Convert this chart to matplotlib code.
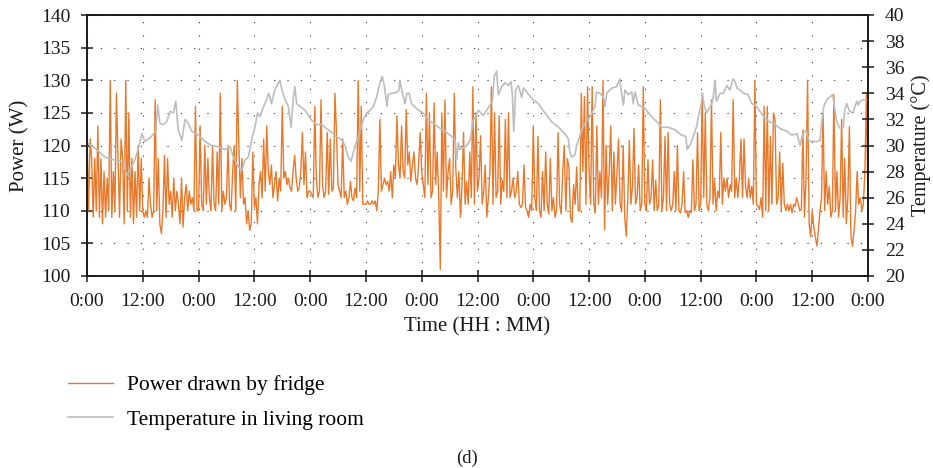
import numpy as np
import matplotlib
matplotlib.use("Agg")
import matplotlib.pyplot as plt

plt.rcParams['font.family'] = ['Liberation Serif', 'DejaVu Serif']

# ---------------- data ----------------
sample_minutes = 20  # fridge power sampled every 20 min

power_w = [
    # 0:00 - 12:00 (day 1)
    122, 110, 121, 118, 109, 118, 110, 123, 109, 118, 108, 116, 109, 115, 110, 130, 109, 116,
    110, 128, 118, 109, 121, 118, 108, 130, 110, 125, 109, 118, 108, 116, 109, 120, 110, 118,
    # 12:00 - 0:00
    110, 109, 110, 109, 115, 111, 109, 110, 127, 110, 118, 108, 106.5, 110, 118.5, 109, 118, 111,
    113, 109, 115, 110, 113, 111, 108, 115, 107.5, 112, 114, 110, 113, 111, 112, 110, 126, 110,
    # day 2
    110, 123, 111, 110, 120, 111, 118, 112, 110, 120, 111, 110, 119, 111, 128, 110, 113, 111,
    112, 120, 111, 110, 116, 120, 110, 130, 120, 112, 118, 111, 112, 108, 110, 107, 108, 119,
    110.5, 112, 108, 114, 116, 112, 121, 113, 123, 116, 114, 117, 112, 114, 116, 111.5, 115, 113,
    126, 115, 116, 114, 115, 113.5, 113, 116, 118.5, 115, 113, 113.5, 116, 122, 114, 119, 112, 113,
    # day 3
    113, 112.5, 112, 126, 115, 112, 113, 127, 114, 112, 113, 122, 112.5, 121, 113, 113.5, 128, 122,
    114, 113, 112, 121, 112, 113, 111, 112, 114.5, 112, 111.5, 113.5, 112, 130, 113, 126, 111, 111,
    111, 111.5, 111, 111, 111.5, 111, 111.5, 110, 113, 124, 113, 114, 115, 114, 114.5, 113, 116, 112,
    117, 115, 124.5, 117, 115, 123, 116, 115, 125.5, 117, 119, 114.5, 117, 119, 115, 114, 117, 122,
    # day 4
    116, 114, 112, 128, 114, 125, 112, 113, 126.5, 114, 119, 112, 101, 125, 113, 127, 112, 116,
    118, 111, 113, 128, 116.5, 112, 116, 109, 114, 122, 111, 114.5, 111, 119, 112, 129, 111, 125,
    113, 115, 121.5, 111, 113, 117, 109, 112, 116, 129, 111, 125, 112, 113, 124.5, 111, 114.7, 113,
    124, 112, 125, 112, 113, 115, 112, 113, 116, 111, 110.5, 111, 117, 110.5, 110, 109, 111, 110,
    # day 5
    123, 112, 110, 121.4, 110, 109, 116, 110, 119, 111, 109.5, 118, 110, 112, 109, 110, 122, 111,
    109.5, 116, 120, 110, 118, 116.7, 109, 108.2, 114, 111, 116.7, 110, 110, 128, 116, 127.5, 111, 129,
    116, 111, 129, 111, 109.7, 123, 111, 116, 112, 130, 107.1, 120, 111, 116, 123, 110, 119, 111,
    116, 121, 111, 110, 120, 109, 106.1, 112, 120.8, 111, 113.7, 122.6, 111, 112, 117, 110, 111, 129,
    # day 6
    111, 110, 117.8, 111, 112, 117.8, 110, 114.7, 110, 111, 127, 110, 112, 121.4, 110, 122, 111, 110,
    111, 116, 110, 120, 110, 109.7, 111, 116, 109.7, 110, 109, 110, 109.7, 117.8, 110, 111, 122, 110,
    111, 128, 112, 125, 111, 110, 112, 127, 111, 114.7, 110, 113, 112, 122, 111, 115, 113, 115,
    112, 114, 113, 127, 112, 115, 112, 115, 121, 112, 121, 113.7, 112, 115, 112, 113.7, 111, 130,
    # day 7
    111, 110.7, 110.2, 112, 109, 126, 110, 126, 110, 121.4, 111, 125, 124, 111, 112, 119, 110, 117.3,
    111, 110, 111, 110, 111, 109.7, 111, 110.7, 112, 111, 110, 110.2, 122.4, 109, 115, 130, 108, 106,
    110, 107.6, 106, 104.6, 107, 110, 112, 125, 110, 116, 111, 113.7, 109, 110, 127.8, 110, 116, 109,
    112, 124, 109, 118, 108, 112, 122.9, 106, 104.6, 107, 110, 116, 111, 112, 110, 111, 116, 128,
    110,
]

temp_hours = [
    0, 1.7, 3.9, 6.7, 7.8, 8.5, 9.2, 10.3, 11, 11.8, 12.5, 13.9, 14.8, 15.2, 15.7, 16.4, 17.1,
    17.9, 18.6, 19.1, 19.6, 20.4, 21.1, 21.8, 22.5, 23.9, 25.4, 26.8, 28.2, 29.7, 30.8, 31.5,
    32.5, 33.3, 34.0, 34.7, 35.4, 36.1, 36.7, 37.2, 37.9, 38.6, 39.1, 39.7, 40.4, 41.2, 41.5,
    41.9, 42.6, 43.3, 43.9, 44.4, 44.7, 45.1, 45.8, 46.9, 48.3, 49.4, 50.5, 51.9, 53.3, 54.8,
    55.5, 56.2, 56.8, 57.3, 58, 58.7, 59.4, 60.2, 60.9, 61.6, 62.3, 63, 63.5, 64, 64.5, 64.8,
    65.5, 66.6, 67.1, 67.3, 67.7, 68.4, 68.8, 69.3, 69.8, 71.3, 72.3, 73.1, 74.1, 75.6, 77,
    78.4, 79.2, 79.5, 79.9, 80.2, 80.9, 81.7, 82.4, 83.1, 83.6, 84.2, 84.7, 85.2, 86, 86.7,
    87.2, 87.6, 88.1, 88.5, 89.2, 89.9, 90.6, 91.2, 91.5, 91.8, 92.2, 92.8, 93.5, 93.9, 94.6,
    95.7, 97.1, 98.5, 100, 101.4, 102.8, 103.5, 103.9, 104.3, 105, 105.3, 106, 106.4, 107.1,
    108.2, 109.3, 109.6, 110.3, 111.1, 111.4, 111.8, 112.9, 113.9, 114.6, 115, 115.4, 115.7,
    116.4, 117.2, 117.5, 117.9, 118.6, 120, 121.5, 122.9, 123.6, 125, 126.5, 127.9, 128.8,
    129.1, 129.7, 130.4, 131.1, 131.5, 132.1, 132.4, 132.8, 133.3, 134.4, 134.7, 135.1, 135.4,
    136.2, 136.9, 137.6, 138.3, 139, 139.4, 139.8, 140.5, 141.2, 142.2, 143, 143.7, 144.8,
    145.8, 146.9, 148, 149.1, 150.5, 151.6, 152.7, 153.4, 153.9, 154.7, 155.2, 155.9, 157,
    157.7, 158, 158.5, 159.1, 159.8, 160.4, 160.9, 161.3, 162, 162.7, 163, 163.4, 164.1, 164.8,
    165.2, 165.6, 165.9, 166.3, 167, 167.7, 168,
]
temp_c = [
    30.2, 29.8, 29.1, 28.8, 28.9, 27.7, 28.1, 28.9, 29.7, 30.9, 30.3, 30.7, 31.1, 33.1, 31.7, 31.6, 31.8,
    32.6, 32.5, 33.4, 31.2, 30.4, 32.0, 31.7, 31.1, 30.8, 30.3, 30.0, 29.9, 29.7, 29.9, 29.1,
    28.4, 28.1, 28.9, 29.1, 30.4, 31.4, 32.5, 32.2, 32.9, 33.5, 34.0, 33.2, 34.3, 34.8, 35.0,
    34.3, 33.5, 33.0, 31.4, 33.7, 34.5, 33.2, 33.0, 32.7, 31.95, 31.6, 31.6, 31.2, 30.8, 30.4,
    30.0, 29.1, 28.8, 29.5, 30.3, 31.1, 31.95, 32.5, 32.7, 33.0, 33.7, 34.8, 35.3, 34.5, 33.0, 33.9,
    34.0, 34.05, 34.25, 35.0, 34.25, 33.2, 34.0, 34.0, 33.2, 32.7, 32.5, 32.1, 31.8, 31.4, 31.1,
    30.7, 30.4, 28.9, 30.2, 29.7, 29.8, 30.0, 30.4, 31.95, 32.2, 32.7, 32.5, 32.3, 32.7, 33.1,
    33.4, 35.3, 35.7, 33.9, 34.5, 34.8, 34.6, 34.9, 33.9, 31.1, 34.25, 34.6, 33.7, 34.4, 34.1,
    33.6, 33.2, 32.5, 31.8, 31.4, 30.9, 30.55, 29.4, 29.1, 29.3, 30.0, 30.7, 31.2, 31.7,
    32.2, 33.0, 34.1, 34.0, 33.7, 33.0, 34.0, 34.4, 34.5, 35.1, 34.0, 33.1, 34.25,
    33.9, 34.1, 33.2, 34.1, 33.1, 32.85, 32.2, 31.7, 31.4, 31.4, 31.2, 30.8, 30.7,
    29.7, 30.0, 30.7, 31.4, 32.2, 33.1, 34.0, 33.0, 32.5, 33.2, 33.6, 35.0, 33.4,
    34.0, 34.0, 34.6, 34.25, 35.1, 34.9, 34.4, 34.25, 34.0, 33.9, 33.2, 33.1, 32.6,
    32.1, 31.8, 31.6, 31.3, 31.1, 30.8, 30.9, 30.0, 30.8, 31.2, 30.4, 30.3, 30.3,
    30.4, 31.7, 33.0, 33.5, 33.7, 33.9, 32.7, 31.8, 31.3, 31.4, 32.7, 33.2, 32.6, 32.5,
    33.0, 33.4, 33.1, 33.4, 33.5, 33.5, 33.4,
]

x_ticks_hours = [0, 12, 24, 36, 48, 60, 72, 84, 96, 108, 120, 132, 144, 156, 168]
x_tick_labels = ['0:00', '12:00', '0:00', '12:00', '0:00', '12:00', '0:00', '12:00',
                 '0:00', '12:00', '0:00', '12:00', '0:00', '12:00', '0:00']
power_ticks = [100, 105, 110, 115, 120, 125, 130, 135, 140]
temp_ticks = [20, 22, 24, 26, 28, 30, 32, 34, 36, 38, 40]

power_label = 'Power drawn by fridge'
temp_label = 'Temperature in living room'

# ---------------- figure ----------------
W, H = 933, 468
fig = plt.figure(figsize=(W / 100, H / 100), dpi=100)
ax = fig.add_axes([87 / W, 1 - 276 / H, 781 / W, 261 / H])
ax2 = ax.twinx()

orange = '#E8792B'
grey = '#BDBDBD'

power_hours = np.arange(len(power_w)) * sample_minutes / 60.0
l1, = ax.plot(power_hours, power_w, color=orange, lw=1.0, label=power_label)
l2, = ax2.plot(temp_hours, temp_c, color=grey, lw=1.2, label=temp_label)

ax.set_xlim(0, 168)
ax.set_ylim(100, 140)
ax2.set_ylim(20, 40)

ax.set_xticks(x_ticks_hours)
ax.set_xticklabels(x_tick_labels)
ax.set_yticks(power_ticks)
ax2.set_yticks(temp_ticks)

ax.set_axisbelow(True)
ax.grid(True, linestyle=(0, (1, 11)), color='#333333', linewidth=0.8)

for a in (ax, ax2):
    for s in a.spines.values():
        s.set_linewidth(1.2)
        s.set_color('#1a1a1a')
ax.tick_params(axis='both', direction='inout', length=9, width=1.1, color='#1a1a1a',
               labelsize=14, pad=7.5, labelcolor='#1a1a1a')
ax2.tick_params(axis='y', direction='inout', length=9, width=1.1, color='#1a1a1a',
                labelsize=14, pad=7.5, labelcolor='#1a1a1a')

ax.set_ylabel('Power (W)', fontsize=15, color='#1a1a1a')
ax.yaxis.set_label_coords((29 - 87) / 781, 0.5)
ax2.set_ylabel('Temperature (°C)', fontsize=14.5, color='#1a1a1a')
ax2.yaxis.set_label_coords((911 - 87) / 781, 0.5)
ax.set_xlabel('Time (HH : MM)', fontsize=15, color='#1a1a1a')
ax.xaxis.set_label_coords(0.5, (276 - 317) / 261)

fig.legend([l1, l2], [power_label, temp_label], loc='upper left',
           bbox_to_anchor=(68 / W, 1 - 375 / H), frameon=False, fontsize=15.5,
           handlelength=2.1, handletextpad=0.65, labelspacing=0.68, borderpad=0,
           borderaxespad=0)

fig.text(467 / W, 1 - 458 / H, '(d)', ha='center', va='center', fontsize=13.5, color='#1a1a1a')

fig.savefig('out.png', dpi=100)
